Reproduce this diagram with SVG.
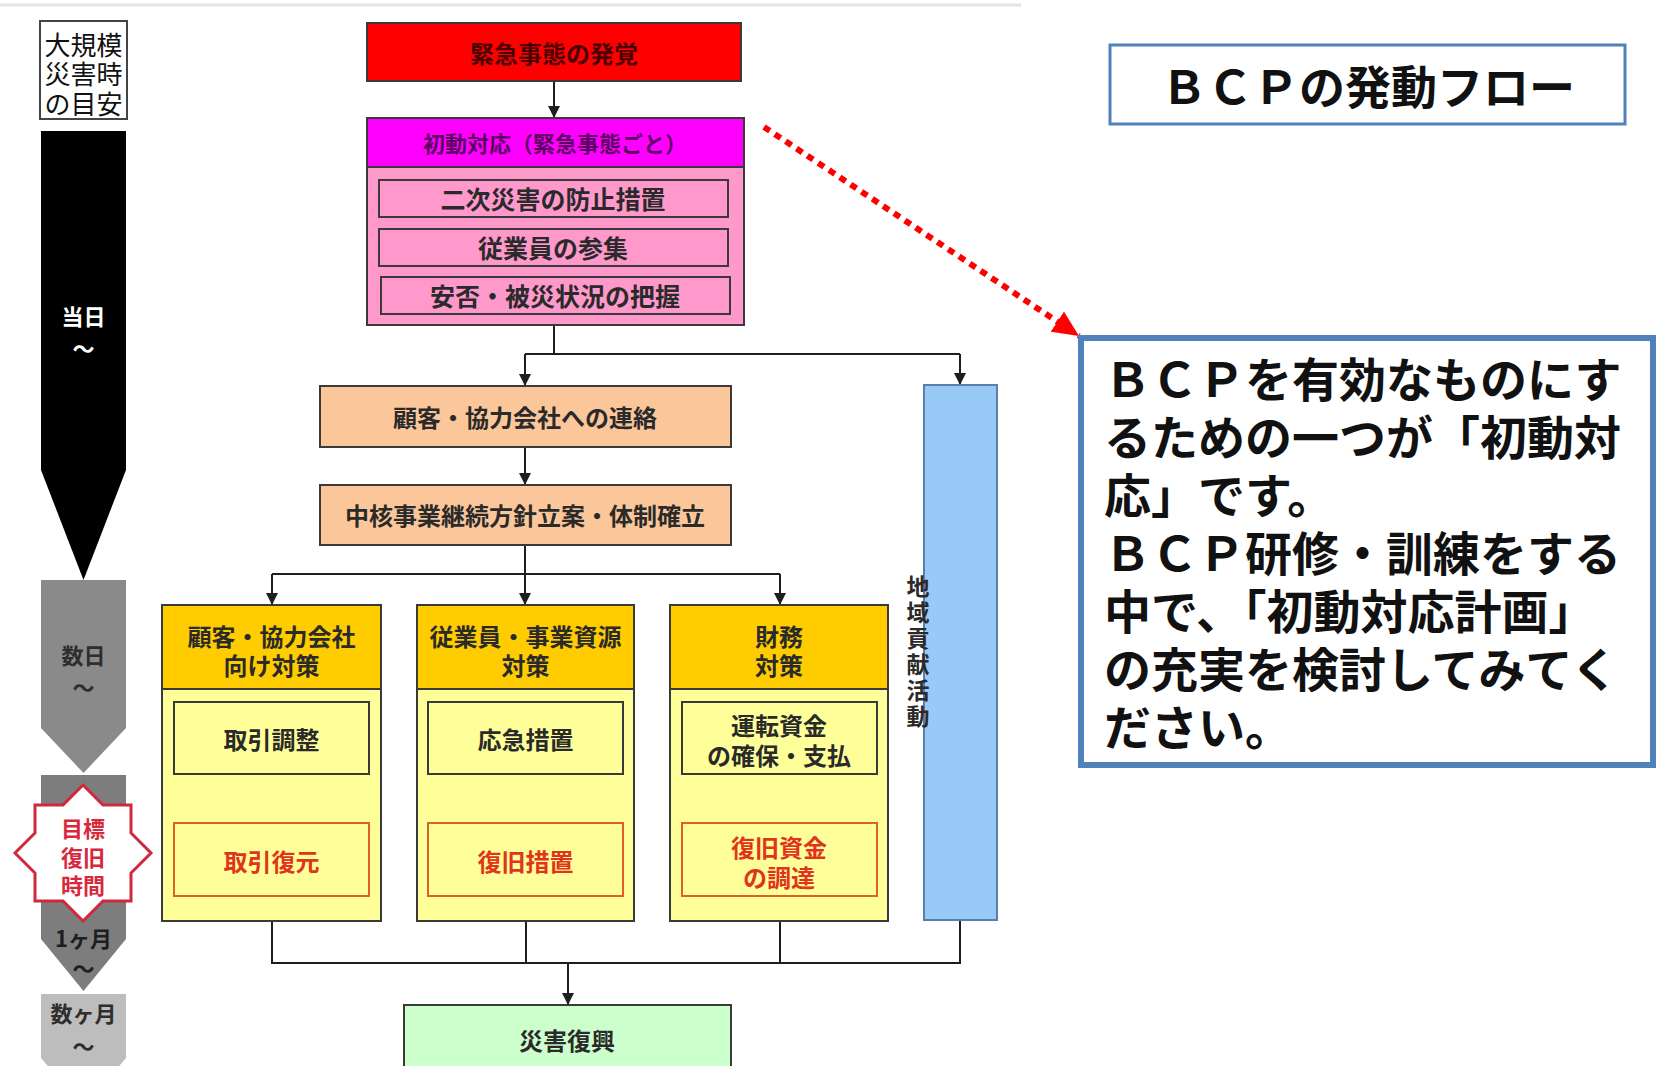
<svg xmlns="http://www.w3.org/2000/svg" width="1659" height="1066" viewBox="0 0 1659 1066">
<defs>
<style>
.t{font-family:"Noto Sans CJK JP","Noto Sans",sans-serif;font-weight:bold;fill:#2a2a2a;text-anchor:middle;dominant-baseline:central}
.box{stroke:#3a3a3a;stroke-width:2}
.conn{fill:none;stroke:#1e1e1e;stroke-width:2}
.lab{font-family:"Noto Sans CJK JP","Noto Sans",sans-serif;text-anchor:middle;dominant-baseline:central}
.big{font-family:"Noto Sans CJK JP","Noto Sans",sans-serif;font-weight:bold;fill:#111;dominant-baseline:central}
</style>
<marker id="ah" markerWidth="12" markerHeight="12" refX="12" refY="6" orient="auto" markerUnits="userSpaceOnUse"><path d="M0,0 L12,6 L0,12 z" fill="#1e1e1e"/></marker>
<marker id="rah" markerWidth="26" markerHeight="24" refX="26" refY="12" orient="auto" markerUnits="userSpaceOnUse"><path d="M0,0 L26,12 L0,24 z" fill="#ff0000"/></marker>
</defs>
<rect width="1659" height="1066" fill="#ffffff"/>
<line x1="0" y1="5" x2="1021" y2="5" stroke="#e4e4e4" stroke-width="3"/>

<!-- time column -->
<g id="timeline">
<rect x="40" y="21" width="87" height="98" fill="#fff" stroke="#444" stroke-width="2"/>
<text class="lab" font-size="26" fill="#111"><tspan x="83.5" y="43">大規模</tspan><tspan x="83.5" y="72">災害時</tspan><tspan x="83.5" y="102">の目安</tspan></text>
<polygon points="41,131 126,131 126,470 83.5,580 41,470" fill="#000"/>
<text class="lab" font-size="22" font-weight="bold" fill="#fff"><tspan x="83.5" y="315">当日</tspan><tspan x="83.5" y="347">〜</tspan></text>
<polygon points="41,580 126,580 126,728 83.5,773 41,728" fill="#8a8a8a"/>
<text class="lab" font-size="22" font-weight="bold" fill="#2e2e2e"><tspan x="83.5" y="654">数日</tspan><tspan x="83.5" y="686">〜</tspan></text>
<polygon points="41,775 126,775 126,939 83.5,991 41,939" fill="#7d7d7d"/>
<text class="lab" font-size="22" font-weight="bold" fill="#1e1e1e"><tspan x="83.5" y="937">1ヶ月</tspan><tspan x="83.5" y="967">〜</tspan></text>
<polygon points="41,994 126,994 126,1058 83.5,1108 41,1058" fill="#bdbdbd"/>
<text class="lab" font-size="22" font-weight="bold" fill="#2e2e2e"><tspan x="83.5" y="1012">数ヶ月</tspan><tspan x="83.5" y="1045">〜</tspan></text>
</g>

<g id="star">
<polygon points="83,785 103,805 131,805 131,833 151,853 131,873 131,901 103,901 83,921 63,901 35,901 35,873 15,853 35,833 35,805 63,805" fill="#fff" stroke="#d0283c" stroke-width="3"/>
<text class="lab" font-size="22" font-weight="bold" fill="#d8283c"><tspan x="83" y="827">目標</tspan><tspan x="83" y="856">復旧</tspan><tspan x="83" y="884">時間</tspan></text>
</g>

<!-- connectors -->
<g id="connectors">
<line class="conn" x1="554" y1="81" x2="554" y2="118" marker-end="url(#ah)"/>
<polyline class="conn" points="554,325 554,354"/>
<line class="conn" x1="525" y1="354" x2="960" y2="354"/>
<line class="conn" x1="525" y1="354" x2="525" y2="386" marker-end="url(#ah)"/>
<line class="conn" x1="960" y1="354" x2="960" y2="385" marker-end="url(#ah)"/>
<line class="conn" x1="525" y1="447" x2="525" y2="485" marker-end="url(#ah)"/>
<line class="conn" x1="525" y1="545" x2="525" y2="574"/>
<line class="conn" x1="272" y1="574" x2="780" y2="574"/>
<line class="conn" x1="272" y1="574" x2="272" y2="605" marker-end="url(#ah)"/>
<line class="conn" x1="525" y1="574" x2="525" y2="605" marker-end="url(#ah)"/>
<line class="conn" x1="780" y1="574" x2="780" y2="605" marker-end="url(#ah)"/>
<line class="conn" x1="272" y1="774" x2="272" y2="823" marker-end="url(#ah)"/>
<line class="conn" x1="525" y1="774" x2="525" y2="823" marker-end="url(#ah)"/>
<line class="conn" x1="780" y1="774" x2="780" y2="823" marker-end="url(#ah)"/>
<line class="conn" x1="272" y1="921" x2="272" y2="963"/>
<line class="conn" x1="526" y1="921" x2="526" y2="963"/>
<line class="conn" x1="780" y1="921" x2="780" y2="963"/>
<line class="conn" x1="960" y1="920" x2="960" y2="963"/>
<line class="conn" x1="271" y1="963" x2="961" y2="963"/>
<line class="conn" x1="568" y1="963" x2="568" y2="1005" marker-end="url(#ah)"/>
<line x1="764" y1="127" x2="1079" y2="336" stroke="#ff0000" stroke-width="6" stroke-dasharray="7 6" marker-end="url(#rah)"/>
</g>

<g id="n-hakkaku">
<rect class="box" x="367" y="23" width="374" height="58" fill="#ff0000" stroke="#6a0000"/>
<text class="t" x="554" y="52" font-size="24" style="fill:#4a0000">緊急事態の発覚</text>
</g>

<g id="n-shodo">
<rect class="box" x="367" y="118" width="377" height="207" fill="#ff99cc"/>
<rect class="box" x="367" y="118" width="377" height="49" fill="#ff00ff"/>
<text class="t" x="555" y="142" font-size="22" style="fill:#5a0060">初動対応（緊急事態ごと）</text>
<rect class="box" x="379" y="180" width="349" height="37" fill="#ff99cc"/>
<text class="t" x="553" y="198" font-size="25">二次災害の防止措置</text>
<rect class="box" x="379" y="229" width="349" height="37" fill="#ff99cc"/>
<text class="t" x="553" y="247" font-size="25">従業員の参集</text>
<rect class="box" x="381" y="277" width="349" height="37" fill="#ff99cc"/>
<text class="t" x="555" y="295" font-size="25">安否・被災状況の把握</text>
</g>

<g id="n-renraku">
<rect class="box" x="320" y="386" width="411" height="61" fill="#fbc79a"/>
<text class="t" x="525" y="416" font-size="24">顧客・協力会社への連絡</text>
</g>

<g id="n-chukaku">
<rect class="box" x="320" y="485" width="411" height="60" fill="#fbc79a"/>
<text class="t" x="525" y="514" font-size="24">中核事業継続方針立案・体制確立</text>
</g>

<g id="n-kokyaku">
<rect class="box" x="162" y="605" width="219" height="316" fill="#ffff99"/>
<rect class="box" x="162" y="605" width="219" height="84" fill="#ffcc00"/>
<text class="t" font-size="24"><tspan x="271.5" y="635">顧客・協力会社</tspan><tspan x="271.5" y="664">向け対策</tspan></text>
<rect class="box" x="174" y="702" width="195" height="72" fill="#ffff99"/>
<text class="t" x="271.5" y="738" font-size="24">取引調整</text>
<rect x="174" y="823" width="195" height="73" fill="#ffff99" stroke="#e0602a" stroke-width="2"/>
<text class="t" x="271.5" y="860" font-size="24" style="fill:#e0341e">取引復元</text>
</g>

<g id="n-jugyoin">
<rect class="box" x="417" y="605" width="217" height="316" fill="#ffff99"/>
<rect class="box" x="417" y="605" width="217" height="84" fill="#ffcc00"/>
<text class="t" font-size="24"><tspan x="525.5" y="635">従業員・事業資源</tspan><tspan x="525.5" y="664">対策</tspan></text>
<rect class="box" x="428" y="702" width="195" height="72" fill="#ffff99"/>
<text class="t" x="525.5" y="738" font-size="24">応急措置</text>
<rect x="428" y="823" width="195" height="73" fill="#ffff99" stroke="#e0602a" stroke-width="2"/>
<text class="t" x="525.5" y="860" font-size="24" style="fill:#e0341e">復旧措置</text>
</g>

<g id="n-zaimu">
<rect class="box" x="670" y="605" width="218" height="316" fill="#ffff99"/>
<rect class="box" x="670" y="605" width="218" height="84" fill="#ffcc00"/>
<text class="t" font-size="24"><tspan x="779" y="635">財務</tspan><tspan x="779" y="664">対策</tspan></text>
<rect class="box" x="682" y="702" width="195" height="72" fill="#ffff99"/>
<text class="t" font-size="24"><tspan x="779" y="724">運転資金</tspan><tspan x="779" y="754">の確保・支払</tspan></text>
<rect x="682" y="823" width="195" height="73" fill="#ffff99" stroke="#e0602a" stroke-width="2"/>
<text class="t" font-size="24" style="fill:#e0341e"><tspan x="779" y="846">復旧資金</tspan><tspan x="779" y="876">の調達</tspan></text>
</g>

<g id="n-chiiki">
<rect x="924" y="385" width="73" height="535" fill="#99c9f7" stroke="#5a7fa8" stroke-width="2"/>
<text class="t" x="918" y="575" font-size="23" style="writing-mode:vertical-rl;text-anchor:start;letter-spacing:3px">地域貢献活動</text>
</g>

<g id="n-fukko">
<rect class="box" x="404" y="1005" width="327" height="70" fill="#ccffcc"/>
<text class="t" x="567" y="1039" font-size="24">災害復興</text>
</g>

<g id="title">
<rect x="1110" y="45" width="515" height="79" fill="#fff" stroke="#4f81bd" stroke-width="3"/>
<text class="big" x="1368" y="84" font-size="46" text-anchor="middle">ＢＣＰの発動フロー</text>
</g>

<g id="note">
<rect x="1081" y="338" width="572" height="427" fill="#fff" stroke="#4f81bd" stroke-width="6"/>
<text class="big" font-size="47"><tspan x="1104" y="376">ＢＣＰを有効なものにす</tspan><tspan x="1104" y="434">るための一つが「初動対</tspan><tspan x="1104" y="492">応」です。</tspan><tspan x="1104" y="550">ＢＣＰ研修・訓練をする</tspan><tspan x="1104" y="608">中で、「初動対応計画」</tspan><tspan x="1104" y="666">の充実を検討してみてく</tspan><tspan x="1104" y="724">ださい。</tspan></text>
</g>
</svg>
